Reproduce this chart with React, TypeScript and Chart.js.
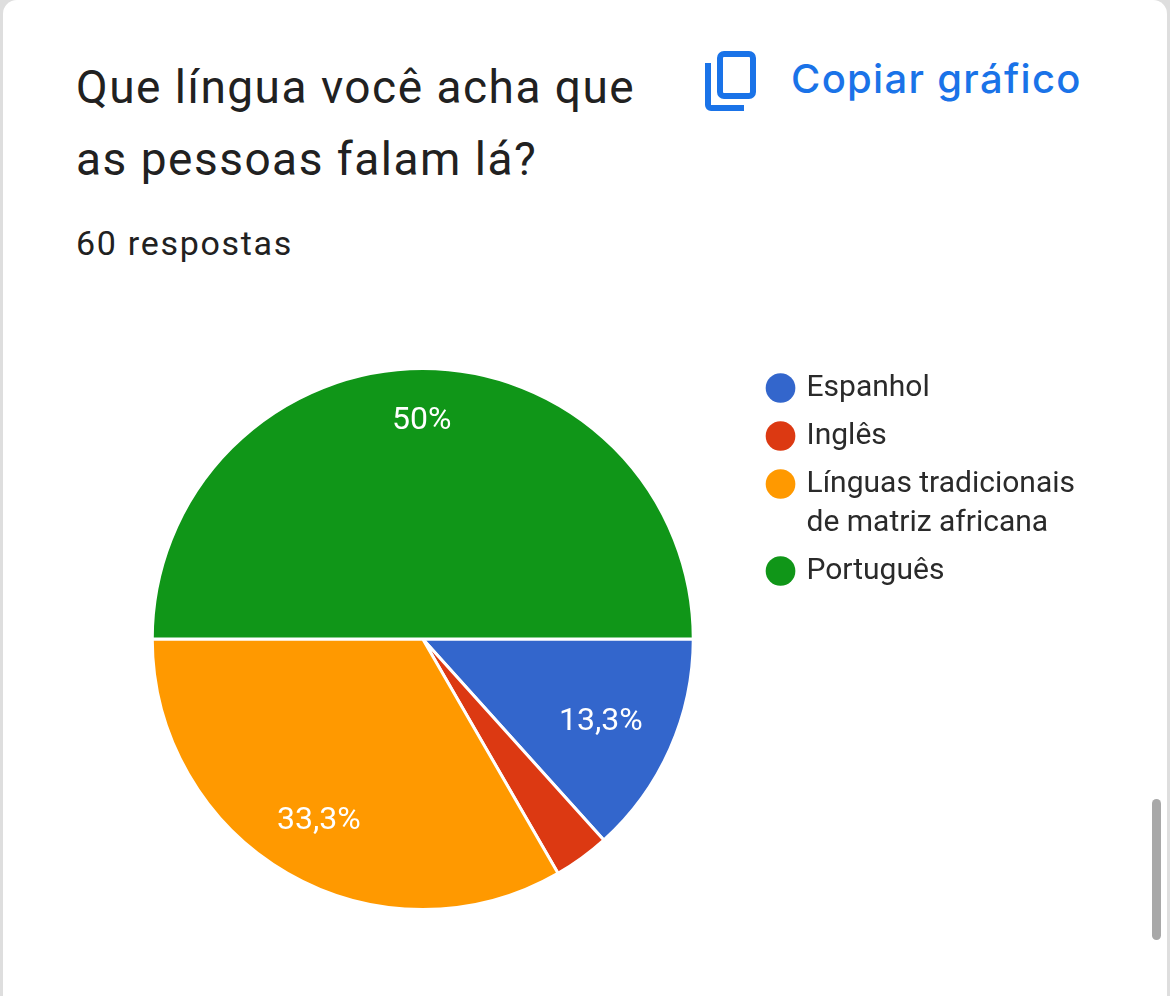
import React, { useEffect, useRef } from "react";
import { Chart, registerables } from "chart.js";

Chart.register(...registerables);

const categories: (string | string[])[] = [
  "Espanhol",
  "Inglês",
  ["Línguas tradicionais", "de matriz africana"],
  "Português",
];
const responses = [8, 2, 20, 30];
const sliceColors = ["#3366cc", "#dc3912", "#ff9900", "#109618"];
const percentLabels = ["13,3%", "", "33,3%", "50%"];
const labelRadii = [196, 0, 206, 222];

const sliceLabelPlugin = {
  id: "sliceLabels",
  afterDatasetsDraw(chart: any) {
    const ctx = chart.ctx;
    const arcs = chart.getDatasetMeta(0).data;
    ctx.save();
    ctx.fillStyle = "#ffffff";
    ctx.font = "32px Roboto";
    ctx.textAlign = "center";
    ctx.textBaseline = "middle";
    arcs.forEach((arc: any, i: number) => {
      const text = percentLabels[i];
      if (!text) return;
      const { x, y, startAngle, endAngle } = arc.getProps(["x", "y", "startAngle", "endAngle"], true);
      const mid = (startAngle + endAngle) / 2;
      ctx.fillText(text, x - 1 + Math.cos(mid) * labelRadii[i], y + 3.5 + Math.sin(mid) * labelRadii[i]);
    });
    ctx.restore();
  },
};

export default function App() {
  const ref = useRef<HTMLCanvasElement | null>(null);
  useEffect(() => {
    document.body.style.margin = "0";
    document.body.style.background = "#dedede";
    const chart = new Chart(ref.current as HTMLCanvasElement, {
      type: "pie",
      data: {
        labels: categories as any,
        datasets: [
          {
            data: responses,
            backgroundColor: sliceColors,
            borderColor: "#ffffff",
            borderWidth: 3,
            radius: 270.5,
          } as any,
        ],
      },
      options: {
        responsive: false,
        animation: false,
        rotation: 90,
        layout: { padding: { left: 85, top: 364, right: 85, bottom: 82 } },
        plugins: {
          tooltip: { enabled: false },
          legend: {
            position: "right",
            align: "start",
            labels: {
              color: "#2a2a2a",
              font: { family: "Roboto", size: 30, lineHeight: 39 / 30 },
              usePointStyle: true,
              boxWidth: 22,
              boxHeight: 21,
              padding: 9,
              generateLabels: () =>
                categories.map((c, i) => ({
                  text: (Array.isArray(c) ? c : [c]) as any,
                  fillStyle: sliceColors[i],
                  strokeStyle: sliceColors[i],
                  fontColor: "#2a2a2a",
                  lineWidth: 0,
                  pointStyle: "circle",
                  index: i,
                  hidden: false,
                })),
            },
          },
        },
      } as any,
      plugins: [sliceLabelPlugin],
    });
    return () => chart.destroy();
  }, []);

  return (
    <div style={{ position: "relative", width: 1170, height: 996, overflow: "hidden", background: "#dedede" }}>
      <div
        style={{
          position: "absolute",
          left: 3,
          top: 0,
          width: 1164,
          height: 1040,
          background: "#ffffff",
          borderRadius: 14,
        }}
      />
      <div
        style={{
          position: "absolute",
          left: 76,
          top: 51,
          width: 640,
          fontFamily: "Roboto",
          fontSize: 46,
          lineHeight: "72px",
          letterSpacing: "1.5px",
          color: "#212121",
          whiteSpace: "nowrap",
        }}
      >
        Que língua você acha que
        <br />
        as pessoas falam lá?
      </div>
      <div
        style={{
          position: "absolute",
          left: 76,
          top: 222,
          fontFamily: "Roboto",
          fontSize: 34,
          lineHeight: "42px",
          letterSpacing: "1.7px",
          color: "#212121",
        }}
      >
        60 respostas
      </div>
      <svg style={{ position: "absolute", left: 700, top: 47 }} width={62} height={70} viewBox="0 0 62 70">
        <rect x={20} y={7} width={33} height={42} rx={4} fill="none" stroke="#1a73e8" strokeWidth={6} />
        <path d="M8 16 V58 a3 3 0 0 0 3 3 H44" fill="none" stroke="#1a73e8" strokeWidth={6} />
      </svg>
      <div
        style={{
          position: "absolute",
          left: 791,
          top: 54,
          fontFamily: "Inter",
          fontWeight: 500,
          fontSize: 40,
          lineHeight: "50px",
          letterSpacing: "1.3px",
          color: "#1a73e8",
          whiteSpace: "nowrap",
        }}
      >
        Copiar gráfico
      </div>
      <canvas ref={ref} width={1170} height={996} style={{ position: "absolute", left: 0, top: 0, display: "block" }} />
      <div
        style={{
          position: "absolute",
          left: 1152,
          top: 799,
          width: 9,
          height: 141,
          borderRadius: 5,
          background: "#a8a8a8",
        }}
      />
    </div>
  );
}
